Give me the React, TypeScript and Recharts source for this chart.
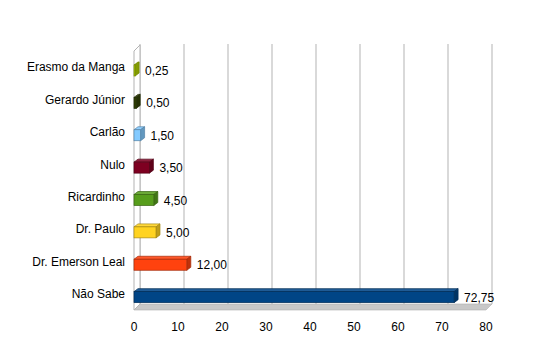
import React from 'react';
import { BarChart, Bar, XAxis, YAxis, CartesianGrid, LabelList, ReferenceArea, Cell } from 'recharts';

const categories = ['Erasmo da Manga', 'Gerardo Júnior', 'Carlão', 'Nulo', 'Ricardinho', 'Dr. Paulo', 'Dr. Emerson Leal', 'Não Sabe'];
const values = [0.25, 0.5, 1.5, 3.5, 4.5, 5.0, 12.0, 72.75];
const colors = ['#aecf00', '#314004', '#83caff', '#7e0021', '#579d1c', '#ffd320', '#ff420e', '#004586'];
const xTicks = [0, 10, 20, 30, 40, 50, 60, 70, 80];

const data = categories.map((name, i) => ({ name, value: values[i], color: colors[i] }));

const FONT = '"Liberation Sans", Arial, sans-serif';
const DEPTH = 6;
const BD = 4; // bar depth x
const BDY = 3; // bar depth y

function shade(hex: string, f: number): string {
  const n = parseInt(hex.slice(1), 16);
  let r = (n >> 16) & 255, g = (n >> 8) & 255, b = n & 255;
  if (f < 0) {
    r = Math.round(r * (1 + f)); g = Math.round(g * (1 + f)); b = Math.round(b * (1 + f));
  } else {
    r = Math.round(r + (255 - r) * f); g = Math.round(g + (255 - g) * f); b = Math.round(b + (255 - b) * f);
  }
  return `rgb(${r},${g},${b})`;
}

const Bar3D = (props: any) => {
  const { x, y, width, height, payload } = props;
  const fill = payload.color;
  const stroke = shade(fill, -0.35);
  const yt = y + 2; // top of top face
  const yf = yt + BDY; // top of front face
  const h = height - BDY;
  const w = Math.max(width, 0.5);
  return (
    <g>
      <polygon
        points={`${x},${yf} ${x + BD},${yt} ${x + w + BD},${yt} ${x + w},${yf}`}
        fill={shade(fill, 0.12)}
        stroke={stroke}
        strokeWidth={0.7}
      />
      <polygon
        points={`${x + w},${yf} ${x + w + BD},${yt} ${x + w + BD},${yt + h} ${x + w},${yf + h}`}
        fill={shade(fill, -0.25)}
        stroke={stroke}
        strokeWidth={0.7}
      />
      <rect x={x} y={yf} width={w} height={h} fill={fill} stroke={stroke} strokeWidth={0.7} />
    </g>
  );
};

const Walls = (props: any) => {
  const { x, y, width, height } = props;
  const b = y + height;
  return (
    <g>
      <polygon
        points={`${x},${y} ${x + DEPTH},${y - DEPTH} ${x + DEPTH},${b - DEPTH} ${x},${b}`}
        fill="#ffffff"
        stroke="#b3b3b3"
        strokeWidth={1}
      />
      <polygon
        points={`${x},${b} ${x + width},${b} ${x + width + DEPTH},${b - DEPTH} ${x + DEPTH},${b - DEPTH}`}
        fill="#c8c8c8"
        stroke="#b0b0b0"
        strokeWidth={0.6}
      />
    </g>
  );
};

const fmt = (v: number) => v.toFixed(2).replace('.', ',');

const ValueLabel = (props: any) => {
  const { x, y, width, height, value } = props;
  return (
    <text
      x={x + width + 10}
      y={y + height / 2 + 4}
      fontSize={12}
      fontFamily={FONT}
      fill="#000"
      textAnchor="start"
      dominantBaseline="central"
    >
      {fmt(value)}
    </text>
  );
};

const gridGen = (p: any) => {
  const { xAxis, offset } = p;
  return xTicks.map((t) => {
    const base =
      xAxis && typeof xAxis.scale === 'function'
        ? xAxis.scale(t)
        : offset.left + (t / 80) * offset.width;
    return base + DEPTH;
  });
};

export default function App() {
  return (
    <div style={{ position: 'absolute', left: 0, top: 0, width: 540, height: 355, background: '#fff' }}>
      <BarChart
        width={540}
        height={355}
        data={data}
        layout="vertical"
        margin={{ top: 51, right: 54, bottom: 15, left: 0 }}
        barSize={14}
      >
        <ReferenceArea x1={0} x2={80} shape={<Walls />} ifOverflow="visible" fill="none" />
        <CartesianGrid
          horizontal={false}
          vertical
          stroke="#b3b3b3"
          y={44}
          height={260}
          verticalCoordinatesGenerator={gridGen}
        />
        <XAxis
          type="number"
          domain={[0, 80]}
          ticks={xTicks}
          axisLine={false}
          tickLine={false}
          tickSize={0}
          tickMargin={12}
          height={30}
          interval={0}
          tick={{ fontSize: 12, fill: '#000', fontFamily: FONT }}
        />
        <YAxis
          type="category"
          dataKey="name"
          width={134}
          axisLine={false}
          tickLine={false}
          tickSize={0}
          tickMargin={9}
          interval={0}
          tick={{ fontSize: 12, fill: '#000', fontFamily: FONT }}
        />
        <Bar dataKey="value" isAnimationActive={false} shape={<Bar3D />}>
          {data.map((d, i) => (
            <Cell key={i} fill={d.color} />
          ))}
          <LabelList dataKey="value" content={<ValueLabel />} />
        </Bar>
      </BarChart>
    </div>
  );
}
